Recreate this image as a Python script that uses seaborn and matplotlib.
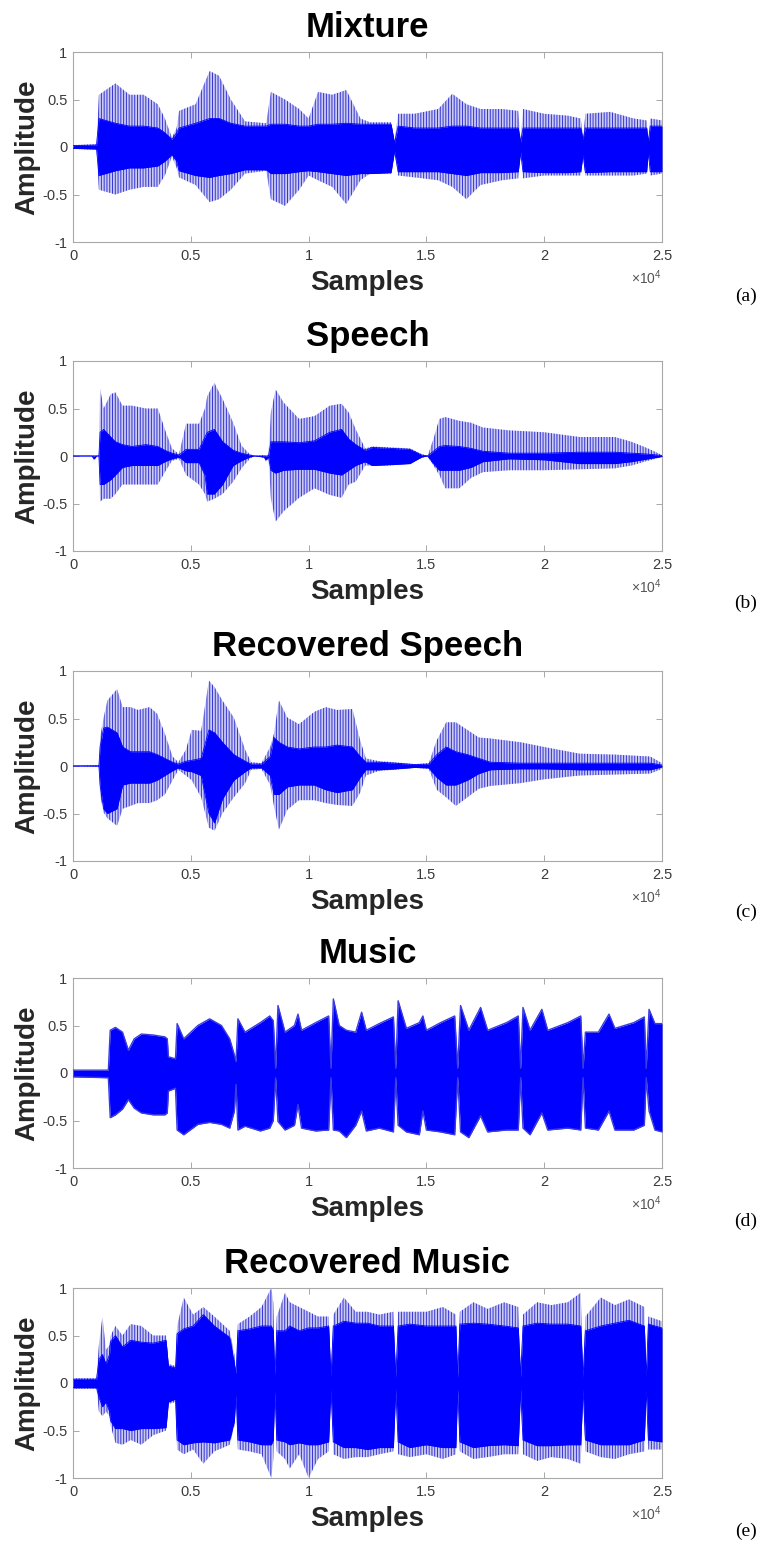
import numpy as np
import pandas as pd
import matplotlib
matplotlib.use("Agg")
import matplotlib.pyplot as plt
import seaborn as sns

# ---------------- data ----------------
TITLES = ["Mixture", "Speech", "Recovered Speech", "Music", "Recovered Music"]
PANEL_TAGS = ["(a)", "(b)", "(c)", "(d)", "(e)"]
X_TICKS = [0, 5000, 10000, 15000, 20000, 25000]
X_TICK_LABELS = ["0", "0.5", "1", "1.5", "2", "2.5"]
Y_TICKS = [-1, -0.5, 0, 0.5, 1]
Y_TICK_LABELS = ["-1", "-0.5", "0", "0.5", "1"]

# (a) Mixture: sample positions, outer (spike) envelope, dense core envelope
MIX_X = [0, 1000, 1100, 1800, 2400, 3000, 3600, 3900, 4200, 4400, 4500, 5200, 5800, 6200, 6700,
         7300, 8200, 8400, 9000, 9600, 10000, 10400, 11000, 11600, 12200, 12600, 13500, 13650,
         13800, 14500, 15500, 16100, 16700, 17300, 18200, 18900, 19000, 19100, 20000, 21000,
         21550, 21650, 21750, 22800, 23800, 24350, 24420, 24500, 25000]
MIX_OUT_HI = [.02, .03, .55, .67, .55, .55, .45, .3, .1, .2, .38, .45, .8, .75, .5,
              .27, .25, .58, .5, .4, .3, .58, .55, .6, .3, .26, .26, .05,
              .35, .35, .4, .56, .45, .4, .4, .38, .05, .4, .35, .33,
              .3, .1, .35, .37, .3, .28, .05, .3, .28]
MIX_OUT_LO = [-.02, -.03, -.45, -.5, -.45, -.42, -.42, -.3, -.1, -.22, -.32, -.4, -.58, -.55, -.45,
              -.28, -.25, -.55, -.62, -.45, -.3, -.35, -.42, -.6, -.35, -.28, -.28, -.05,
              -.3, -.32, -.35, -.42, -.55, -.4, -.35, -.33, -.05, -.33, -.3, -.3,
              -.3, -.1, -.3, -.3, -.3, -.28, -.05, -.3, -.28]
MIX_CORE_HI = [.015, .02, .3, .25, .22, .22, .2, .15, .08, .15, .2, .25, .3, .3, .25,
               .22, .22, .24, .24, .22, .22, .24, .24, .25, .24, .24, .24, .04,
               .22, .2, .2, .22, .22, .2, .2, .2, .05, .2, .2, .2,
               .2, .08, .2, .2, .2, .2, .05, .22, .22]
MIX_CORE_LO = [-.015, -.02, -.3, -.25, -.22, -.22, -.2, -.15, -.08, -.15, -.25, -.3, -.32, -.3, -.28,
               -.24, -.24, -.28, -.28, -.26, -.25, -.26, -.28, -.3, -.28, -.28, -.27, -.04,
               -.26, -.26, -.26, -.28, -.3, -.27, -.27, -.26, -.05, -.26, -.27, -.27,
               -.26, -.08, -.27, -.26, -.26, -.26, -.05, -.26, -.26]

# (b) Speech
SPE_X = [0, 800, 900, 1000, 1100, 1150, 1300, 1600, 1800, 2100, 2500, 3100, 3600, 3900, 4200,
         4500, 4800, 5350, 5600, 5700, 6000, 6350, 6800, 7150, 7500, 7700, 8100, 8200, 8300,
         8400, 8600, 8950, 9600, 10250, 10900, 11400, 11700, 12000, 12400, 12700, 13500, 14300,
         14800, 15050, 15300, 15550, 15800, 16400, 16900, 17400, 18500, 20000, 21500, 23000,
         23700, 24400, 25000]
SPE_OUT_HI = [0, 0, .01, 0, 0, .71, .5, .65, .67, .53, .53, .5, .5, .28, .08,
              .02, .34, .34, .5, .63, .77, .6, .35, .11, .02, 0, .01, 0, .02,
              .46, .7, .56, .39, .42, .53, .55, .46, .28, .08, .1, .09, .08,
              .02, 0, .18, .39, .41, .37, .35, .3, .27, .25, .2, .2,
              .15, .08, .01]
SPE_OUT_LO = [0, 0, -.05, 0, 0, -.48, -.45, -.45, -.4, -.3, -.3, -.3, -.3, -.17, -.05,
              -.03, -.2, -.3, -.4, -.48, -.45, -.4, -.27, -.13, -.03, 0, -.02, -.06, -.02,
              -.45, -.69, -.58, -.44, -.34, -.41, -.44, -.3, -.27, -.1, -.1, -.1, -.08,
              -.02, 0, -.1, -.2, -.34, -.34, -.23, -.17, -.15, -.15, -.14, -.13,
              -.1, -.05, -.01]
SPE_CORE_HI = [0, 0, 0, 0, 0, .25, .28, .2, .15, .12, .1, .12, .1, .06, .03,
               .01, .07, .07, .2, .25, .28, .15, .06, .03, .01, 0, 0, 0, 0,
               .15, .15, .15, .14, .16, .25, .28, .18, .12, .06, .09, .08, .07,
               .01, 0, .05, .1, .11, .1, .08, .05, .03, .03, .04, .04,
               .03, .02, .005]
SPE_CORE_LO = [0, 0, -.03, 0, 0, -.3, -.3, -.25, -.2, -.12, -.1, -.1, -.1, -.06, -.03,
               -.01, -.07, -.07, -.2, -.4, -.4, -.3, -.1, -.05, -.01, 0, -.01, -.04, -.01,
               -.15, -.18, -.15, -.14, -.14, -.18, -.2, -.15, -.1, -.06, -.1, -.09, -.08,
               -.01, 0, -.08, -.15, -.15, -.15, -.12, -.06, -.03, -.04, -.08, -.08,
               -.06, -.03, -.005]

# (c) Recovered Speech
RSP_X = [0, 1100, 1150, 1300, 1460, 1870, 2110, 2440, 2760, 3250, 3575, 3900, 4225, 4470, 4790,
         5040, 5440, 5770, 6010, 6340, 6825, 7310, 7560, 8000, 8370, 8530, 8740, 9100, 9590,
         10240, 10725, 11210, 11860, 12190, 12430, 13000, 13650, 14500, 15100, 15440, 15840,
         16250, 16740, 17225, 17710, 19000, 20000, 21500, 23000, 24500, 25000]
RSP_OUT_HI = [0, .01, .3, .51, .69, .81, .62, .62, .59, .62, .55, .34, .1, .04, .17,
              .38, .37, .9, .83, .69, .51, .17, .04, .03, .2, .34, .69, .51, .44,
              .57, .62, .59, .6, .27, .08, .05, .04, .02, .03, .27, .46,
              .46, .38, .3, .29, .25, .2, .13, .12, .1, .03]
RSP_OUT_LO = [0, -.01, -.3, -.49, -.55, -.63, -.45, -.42, -.39, -.39, -.36, -.3, -.15, -.04, -.1,
              -.15, -.33, -.65, -.68, -.5, -.33, -.18, -.04, -.03, -.2, -.42, -.67, -.46, -.36,
              -.36, -.39, -.41, -.42, -.28, -.1, -.05, -.04, -.02, -.03, -.25, -.33,
              -.42, -.33, -.24, -.21, -.18, -.14, -.1, -.09, -.08, -.03]
RSP_CORE_HI = [0, 0, .2, .4, .41, .35, .2, .15, .15, .15, .12, .08, .04, .02, .05,
               .06, .08, .38, .35, .25, .12, .05, .02, .02, .1, .3, .25, .2, .18,
               .2, .2, .22, .2, .1, .04, .04, .03, .015, .02, .12, .2,
               .15, .12, .08, .04, .03, .03, .03, .03, .03, .01]
RSP_CORE_LO = [0, 0, -.2, -.45, -.5, -.45, -.2, -.18, -.18, -.18, -.15, -.1, -.05, -.02, -.05,
               -.06, -.1, -.5, -.6, -.35, -.15, -.06, -.02, -.02, -.1, -.3, -.3, -.22, -.2,
               -.2, -.25, -.28, -.25, -.12, -.04, -.04, -.03, -.015, -.02, -.12, -.2,
               -.2, -.15, -.08, -.04, -.03, -.03, -.04, -.04, -.04, -.01]

# (d) Music (dense, solid body)
MUS_X = [0, 1500, 1580, 1800, 2100, 2350, 2600, 2900, 3400, 3900, 4000, 4050, 4350, 4420, 4700,
         5300, 5800, 6300, 6650, 6850, 6920, 7000, 7300, 7950, 8350, 8500, 8600, 8700, 9000,
         9400, 9550, 9700, 10300, 10850, 10950, 11050, 11300, 11600, 12000, 12250, 12450,
         13000, 13600, 13700, 13800, 14150, 14700, 14850, 15000, 15600, 16200, 16330, 16450,
         16800, 17300, 17600, 18400, 18900, 19000, 19100, 19400, 19900, 20150, 21000, 21550,
         21650, 21750, 22300, 22750, 23000, 23800, 24250, 24330, 24450, 24700, 25000]
MUS_OUT_HI = [.03, .03, .45, .48, .43, .24, .36, .41, .4, .38, .36, .17, .15, .52, .36,
              .5, .57, .5, .36, .19, .12, .57, .43, .53, .6, .55, .05, .71, .43,
              .5, .62, .45, .53, .6, .05, .78, .5, .45, .43, .64, .45,
              .52, .59, .05, .76, .47, .53, .6, .45, .53, .6, .05, .71,
              .45, .69, .45, .53, .6, .05, .69, .45, .67, .45, .53, .6,
              .05, .43, .43, .62, .47, .53, .59, .05, .67, .52, .52]
MUS_OUT_LO = [-.04, -.05, -.47, -.44, -.38, -.28, -.37, -.42, -.44, -.44, -.42, -.19, -.16, -.6, -.65,
              -.54, -.52, -.54, -.58, -.4, -.12, -.6, -.56, -.61, -.58, -.5, -.05, -.51, -.6,
              -.55, -.33, -.58, -.61, -.6, -.05, -.6, -.61, -.68, -.55, -.4, -.61,
              -.58, -.62, -.05, -.55, -.62, -.65, -.4, -.6, -.62, -.65, -.05, -.62,
              -.68, -.45, -.62, -.6, -.6, -.05, -.58, -.65, -.42, -.6, -.58, -.6,
              -.05, -.58, -.6, -.4, -.6, -.6, -.55, -.05, -.4, -.6, -.62]

# (e) Recovered Music: sparse spikes (outer) and solid body (core)
RMU_X = [0, 1000, 1100, 1250, 1400, 1550, 1600, 1800, 2100, 2450, 2900, 3400, 3950, 4050, 4350,
         4420, 4700, 5100, 5530, 6000, 6650, 6850, 6920, 7000, 7500, 8000, 8420, 8500, 8570,
         8650, 9000, 9200, 9600, 10000, 10400, 10850, 10950, 11050, 11500, 12000, 12500, 13000,
         13600, 13700, 13800, 14300, 15000, 15700, 16250, 16330, 16420, 17000, 17600, 18300,
         18900, 19000, 19100, 19700, 20300, 21000, 21550, 21650, 21750, 22400, 23000, 23600,
         24250, 24330, 24420, 25000]
RMU_OUT_HI = [.05, .05, .4, .7, .35, .4, .5, .6, .5, .62, .6, .5, .5, .2, .18,
              .6, .9, .72, .8, .7, .55, .3, .12, .62, .7, .8, 1.0, .85, .1,
              .7, .95, .85, .8, .75, .7, .7, .08, .72, .9, .75, .75, .72,
              .75, .08, .75, .75, .75, .8, .72, .08, .75, .85, .78, .85,
              .8, .08, .72, .85, .82, .85, .95, .08, .7, .9, .82, .88,
              .8, .08, .7, .65]
RMU_OUT_LO = [-.06, -.06, -.3, -.35, -.3, -.35, -.45, -.63, -.65, -.6, -.65, -.55, -.5, -.22, -.2,
              -.7, -.75, -.7, -.85, -.72, -.65, -.45, -.14, -.7, -.72, -.75, -1.0, -.8, -.1,
              -.72, -.8, -.9, -.75, -1.0, -.8, -.72, -.08, -.75, -.8, -.78, -.78, -.75,
              -.72, -.08, -.75, -.78, -.75, -.8, -.75, -.08, -.72, -.8, -.78, -.75,
              -.75, -.08, -.75, -.82, -.78, -.8, -.85, -.08, -.72, -.78, -.8, -.75,
              -.72, -.08, -.7, -.7]
RMU_CORE_HI = [.04, .04, .25, .3, .2, .3, .44, .5, .38, .45, .43, .42, .45, .18, .16,
               .52, .57, .6, .72, .6, .48, .2, .1, .55, .57, .6, .6, .55, .08,
               .55, .55, .6, .55, .58, .58, .6, .06, .6, .65, .63, .63, .6,
               .6, .06, .6, .62, .6, .6, .6, .06, .62, .63, .62, .6,
               .58, .06, .6, .63, .62, .62, .6, .06, .55, .6, .63, .66,
               .6, .06, .62, .58]
RMU_CORE_LO = [-.05, -.05, -.15, -.25, -.2, -.3, -.4, -.48, -.48, -.5, -.48, -.48, -.47, -.2, -.17,
               -.6, -.65, -.63, -.62, -.63, -.6, -.4, -.12, -.6, -.62, -.65, -.65, -.6, -.08,
               -.6, -.62, -.65, -.63, -.65, -.65, -.62, -.06, -.62, -.68, -.68, -.7, -.68,
               -.68, -.06, -.62, -.68, -.65, -.68, -.68, -.06, -.62, -.68, -.66, -.65,
               -.66, -.06, -.6, -.66, -.66, -.65, -.65, -.06, -.6, -.65, -.65, -.65,
               -.6, -.06, -.6, -.62]

PANELS = [
    (MIX_X, MIX_OUT_HI, MIX_OUT_LO, MIX_CORE_HI, MIX_CORE_LO, "spiky"),
    (SPE_X, SPE_OUT_HI, SPE_OUT_LO, SPE_CORE_HI, SPE_CORE_LO, "spiky"),
    (RSP_X, RSP_OUT_HI, RSP_OUT_LO, RSP_CORE_HI, RSP_CORE_LO, "spiky"),
    (MUS_X, MUS_OUT_HI, MUS_OUT_LO, None, None, "solid"),
    (RMU_X, RMU_OUT_HI, RMU_OUT_LO, RMU_CORE_HI, RMU_CORE_LO, "spiky"),
]

# ---------------- style ----------------
sns.set_theme(style="white")
plt.rcParams["font.family"] = ["Liberation Sans", "DejaVu Sans"]
plt.rcParams["mathtext.fontset"] = "custom"
plt.rcParams["mathtext.rm"] = "Liberation Sans"
plt.rcParams["mathtext.it"] = "Liberation Sans"
plt.rcParams["hatch.linewidth"] = 0.7

W, H = 764, 1544
fig = plt.figure(figsize=(W / 100, H / 100), dpi=100)

AX_LEFT, AX_RIGHT = 73, 662
AX_TOPS = [52, 361, 671, 978, 1288]
AX_H = 190
TAG_Y = [296, 603, 912, 1221, 1531]

BLUE = "#0000ff"
SPINE = "#a8a8a8"
TICKTXT = "#3a3a3a"

for i, (x, ohi, olo, chi, clo, kind) in enumerate(PANELS):
    assert len(x) == len(ohi) == len(olo), (i, len(x), len(ohi), len(olo))
    if chi is not None:
        assert len(x) == len(chi) == len(clo), (i, len(chi), len(clo))
    top = AX_TOPS[i]
    ax = fig.add_axes([AX_LEFT / W, 1 - (top + AX_H) / H, (AX_RIGHT - AX_LEFT) / W, AX_H / H])

    if kind == "spiky":
        ax.fill_between(x, olo, ohi, facecolor="#c9c9f3", edgecolor="#3434d2",
                        hatch="||||||", linewidth=0, zorder=2)
        ax.fill_between(x, clo, chi, color=BLUE, linewidth=0, zorder=3)
        for y in (chi, clo):
            df = pd.DataFrame({"Samples": x, "Amplitude": y})
            sns.lineplot(data=df, x="Samples", y="Amplitude", ax=ax, color=BLUE,
                         linewidth=0.6, estimator=None, zorder=4)
    else:
        ax.fill_between(x, olo, ohi, color=BLUE, linewidth=0, zorder=3)
        for y in (ohi, olo):
            df = pd.DataFrame({"Samples": x, "Amplitude": y})
            sns.lineplot(data=df, x="Samples", y="Amplitude", ax=ax, color="#3b3be0",
                         linewidth=1.0, estimator=None, zorder=4)

    ax.set_xlim(0, 25000)
    ax.set_ylim(-1, 1)
    ax.set_xticks(X_TICKS)
    ax.set_xticklabels(X_TICK_LABELS)
    ax.set_yticks(Y_TICKS)
    ax.set_yticklabels(Y_TICK_LABELS)
    ax.tick_params(axis="both", direction="in", length=4, width=0.7, color=SPINE,
                   labelsize=10.5, labelcolor=TICKTXT, top=True, right=True,
                   bottom=True, left=True)
    ax.tick_params(axis="x", pad=5)
    ax.tick_params(axis="y", pad=4)
    for s in ax.spines.values():
        s.set_color(SPINE)
        s.set_linewidth(0.8)
        s.set_visible(True)
    ax.grid(False)

    ax.set_title(TITLES[i], fontsize=25, fontweight="bold", color="black", pad=10.8)
    ax.set_xlabel("Samples", fontsize=20, fontweight="bold", color="#262626")
    ax.xaxis.label.set_verticalalignment("baseline")
    ax.xaxis.set_label_coords(0.5, -48 / AX_H)
    ax.set_ylabel("Amplitude", fontsize=20, fontweight="bold", color="#262626")
    ax.yaxis.set_label_coords((27 - AX_LEFT) / (AX_RIGHT - AX_LEFT), 0.5)
    ax.yaxis.label.set_verticalalignment("center")
    ax.yaxis.label.set_horizontalalignment("center")

    ax.text(1.0, -42 / AX_H, r"$\times10^{4}$", transform=ax.transAxes, ha="right",
            va="baseline", fontsize=10, color="#555555")

    fig.text(757 / W, 1 - TAG_Y[i] / H, PANEL_TAGS[i], ha="right", va="center",
             fontsize=14, family=["Liberation Serif", "DejaVu Serif"], color="black")

fig.savefig("out.png", dpi=100, facecolor="white")
